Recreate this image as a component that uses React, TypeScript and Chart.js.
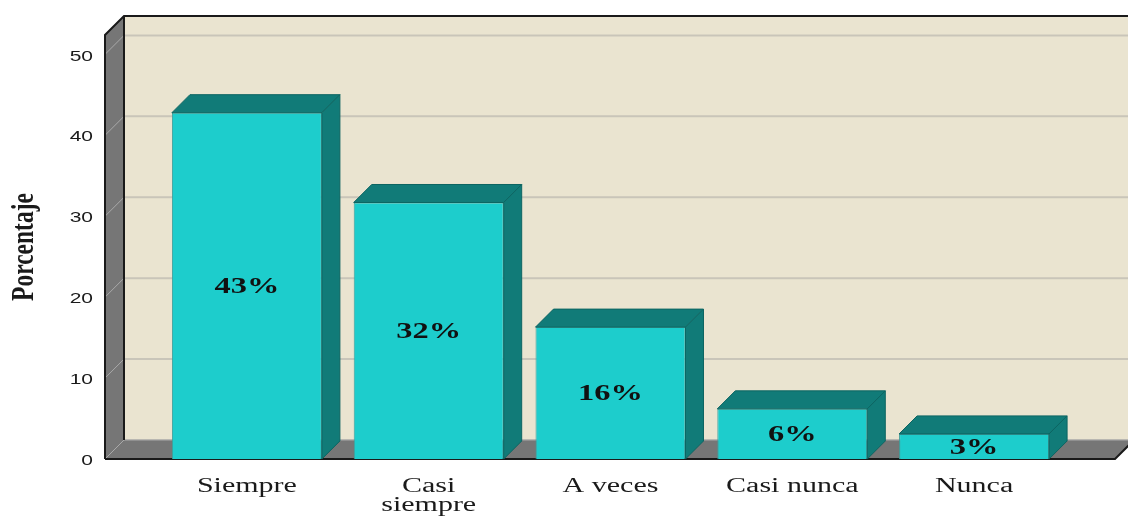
import React, { useEffect, useRef } from "react";
import { Chart, registerables } from "chart.js";

Chart.register(...registerables);

const categories: string[][] = [["Siempre"], ["Casi", "siempre"], ["A veces"], ["Casi nunca"], ["Nunca"]];
const values: number[] = [42.8, 31.7, 16.3, 6.2, 3.1];
const valueLabels: string[] = ["43%", "32%", "16%", "6%", "3%"];
const yTicks: number[] = [0, 10, 20, 30, 40, 50];
const yMax = 52.4;
const yTitle = "Porcentaje";

const WALL = 19;
const BAR_D = 18;
const FACE = "#1dcdcc";
const DARK = "#117b78";
const BACK = "#eae4d0";
const GRAY = "#767676";
const GRID = "#c9c5b9";

function sText(ctx: CanvasRenderingContext2D, text: string, x: number, y: number, sx: number, align: CanvasTextAlign) {
  ctx.save();
  ctx.translate(x, y);
  ctx.scale(sx, 1);
  ctx.textAlign = align;
  ctx.fillText(text, 0, 0);
  ctx.restore();
}

const deco = {
  id: "deco3d",
  beforeDatasetsDraw(chart: any) {
    const ctx: CanvasRenderingContext2D = chart.ctx;
    const ca = chart.chartArea;
    const ys = chart.scales.y;
    const fl = ca.left - 51;
    const fr = ca.right + 50;
    const y0 = ys.getPixelForValue(0);
    const yT = ys.getPixelForValue(yMax);
    const W = WALL;
    ctx.save();
    // back wall
    ctx.fillStyle = BACK;
    ctx.fillRect(fl + W, yT - W, chart.width, y0 - yT);
    // grid lines on back wall
    ctx.strokeStyle = GRID;
    ctx.lineWidth = 2;
    for (const v of yTicks) {
      const yy = ys.getPixelForValue(v) - W;
      ctx.beginPath();
      ctx.moveTo(fl + W, yy);
      ctx.lineTo(chart.width, yy);
      ctx.stroke();
    }
    // left wall
    ctx.fillStyle = GRAY;
    ctx.beginPath();
    ctx.moveTo(fl, yT);
    ctx.lineTo(fl + W, yT - W);
    ctx.lineTo(fl + W, y0 - W);
    ctx.lineTo(fl, y0);
    ctx.closePath();
    ctx.fill();
    // floor
    ctx.beginPath();
    ctx.moveTo(fl, y0);
    ctx.lineTo(fl + W, y0 - W);
    ctx.lineTo(fr + W, y0 - W);
    ctx.lineTo(fr, y0);
    ctx.closePath();
    ctx.fill();
    // diagonal grid on left wall
    ctx.strokeStyle = "#a9a9a9";
    ctx.lineWidth = 1;
    for (const v of yTicks) {
      const yy = ys.getPixelForValue(v);
      ctx.beginPath();
      ctx.moveTo(fl, yy);
      ctx.lineTo(fl + W, yy - W);
      ctx.stroke();
    }
    ctx.beginPath();
    ctx.moveTo(fl + W, y0 - W);
    ctx.lineTo(fr + W, y0 - W);
    ctx.stroke();
    // dark edges
    ctx.strokeStyle = "#1a1a1a";
    ctx.lineWidth = 2;
    ctx.beginPath();
    ctx.moveTo(fl, y0);
    ctx.lineTo(fl, yT);
    ctx.lineTo(fl + W, yT - W);
    ctx.lineTo(chart.width, yT - W);
    ctx.stroke();
    ctx.beginPath();
    ctx.moveTo(fl + W, yT - W);
    ctx.lineTo(fl + W, y0 - W);
    ctx.stroke();
    ctx.beginPath();
    ctx.moveTo(fl, y0);
    ctx.lineTo(fr, y0);
    ctx.lineTo(fr + W, y0 - W);
    ctx.stroke();
    ctx.restore();
  },
  afterDatasetsDraw(chart: any) {
    const ctx: CanvasRenderingContext2D = chart.ctx;
    const ca = chart.chartArea;
    const ys = chart.scales.y;
    const fl = ca.left - 51;
    const y0 = ys.getPixelForValue(0);
    const D = BAR_D;
    const meta = chart.getDatasetMeta(0);
    ctx.save();
    meta.data.forEach((bar: any, i: number) => {
      const l = bar.x - bar.width / 2;
      const r = bar.x + bar.width / 2;
      const t = bar.y;
      const b = bar.base;
      ctx.fillStyle = DARK;
      ctx.strokeStyle = "#0d6562";
      ctx.lineWidth = 1;
      ctx.beginPath();
      ctx.moveTo(l, t);
      ctx.lineTo(l + D, t - D);
      ctx.lineTo(r + D, t - D);
      ctx.lineTo(r, t);
      ctx.closePath();
      ctx.fill();
      ctx.stroke();
      ctx.beginPath();
      ctx.moveTo(r, t);
      ctx.lineTo(r + D, t - D);
      ctx.lineTo(r + D, b - D);
      ctx.lineTo(r, b);
      ctx.closePath();
      ctx.fill();
      ctx.stroke();
      // value label
      ctx.fillStyle = "#111";
      ctx.font = "bold 24px 'Liberation Serif', serif";
      ctx.textBaseline = "middle";
      sText(ctx, valueLabels[i], bar.x, (t + b) / 2 + 1, 1.35, "center");
      // category label
      ctx.fillStyle = "#1a1a1a";
      ctx.font = "20px 'Liberation Serif', serif";
      ctx.textBaseline = "alphabetic";
      categories[i].forEach((line, k) => {
        sText(ctx, line, bar.x, y0 + 33 + k * 19, 1.5, "center");
      });
    });
    // y tick labels
    ctx.fillStyle = "#1a1a1a";
    ctx.font = "15px 'Liberation Sans', sans-serif";
    ctx.textBaseline = "middle";
    for (const v of yTicks) {
      sText(ctx, String(v), fl - 12, ys.getPixelForValue(v) + 2, 1.4, "right");
    }
    // y title
    ctx.font = "bold 23.5px 'Liberation Serif', serif";
    ctx.textBaseline = "middle";
    ctx.textAlign = "center";
    ctx.save();
    ctx.translate(25, 247);
    ctx.scale(1.3, 1);
    ctx.rotate(-Math.PI / 2);
    ctx.fillText(yTitle, 0, 0);
    ctx.restore();
    ctx.restore();
  },
};

export default function App() {
  const ref = useRef<HTMLCanvasElement | null>(null);
  useEffect(() => {
    document.body.style.margin = "0";
    const canvas = ref.current!;
    const chart = new Chart(canvas, {
      type: "bar",
      data: {
        labels: categories.map((c) => c.join(" ")),
        datasets: [
          {
            data: values,
            backgroundColor: FACE,
            borderColor: "#3f9e9b",
            borderWidth: 1,
            barPercentage: 0.825,
            categoryPercentage: 1,
          },
        ],
      },
      options: {
        responsive: false,
        animation: false,
        events: [],
        layout: { padding: { left: 156, right: 63, top: 35, bottom: 57 } },
        plugins: { legend: { display: false }, tooltip: { enabled: false } },
        scales: {
          x: { display: false, offset: true },
          y: { display: false, min: 0, max: yMax },
        },
      },
      plugins: [deco],
    });
    return () => chart.destroy();
  }, []);
  return (
    <div style={{ width: 1128, height: 516, background: "#fff" }}>
      <canvas ref={ref} width={1128} height={516} style={{ display: "block" }} />
    </div>
  );
}
